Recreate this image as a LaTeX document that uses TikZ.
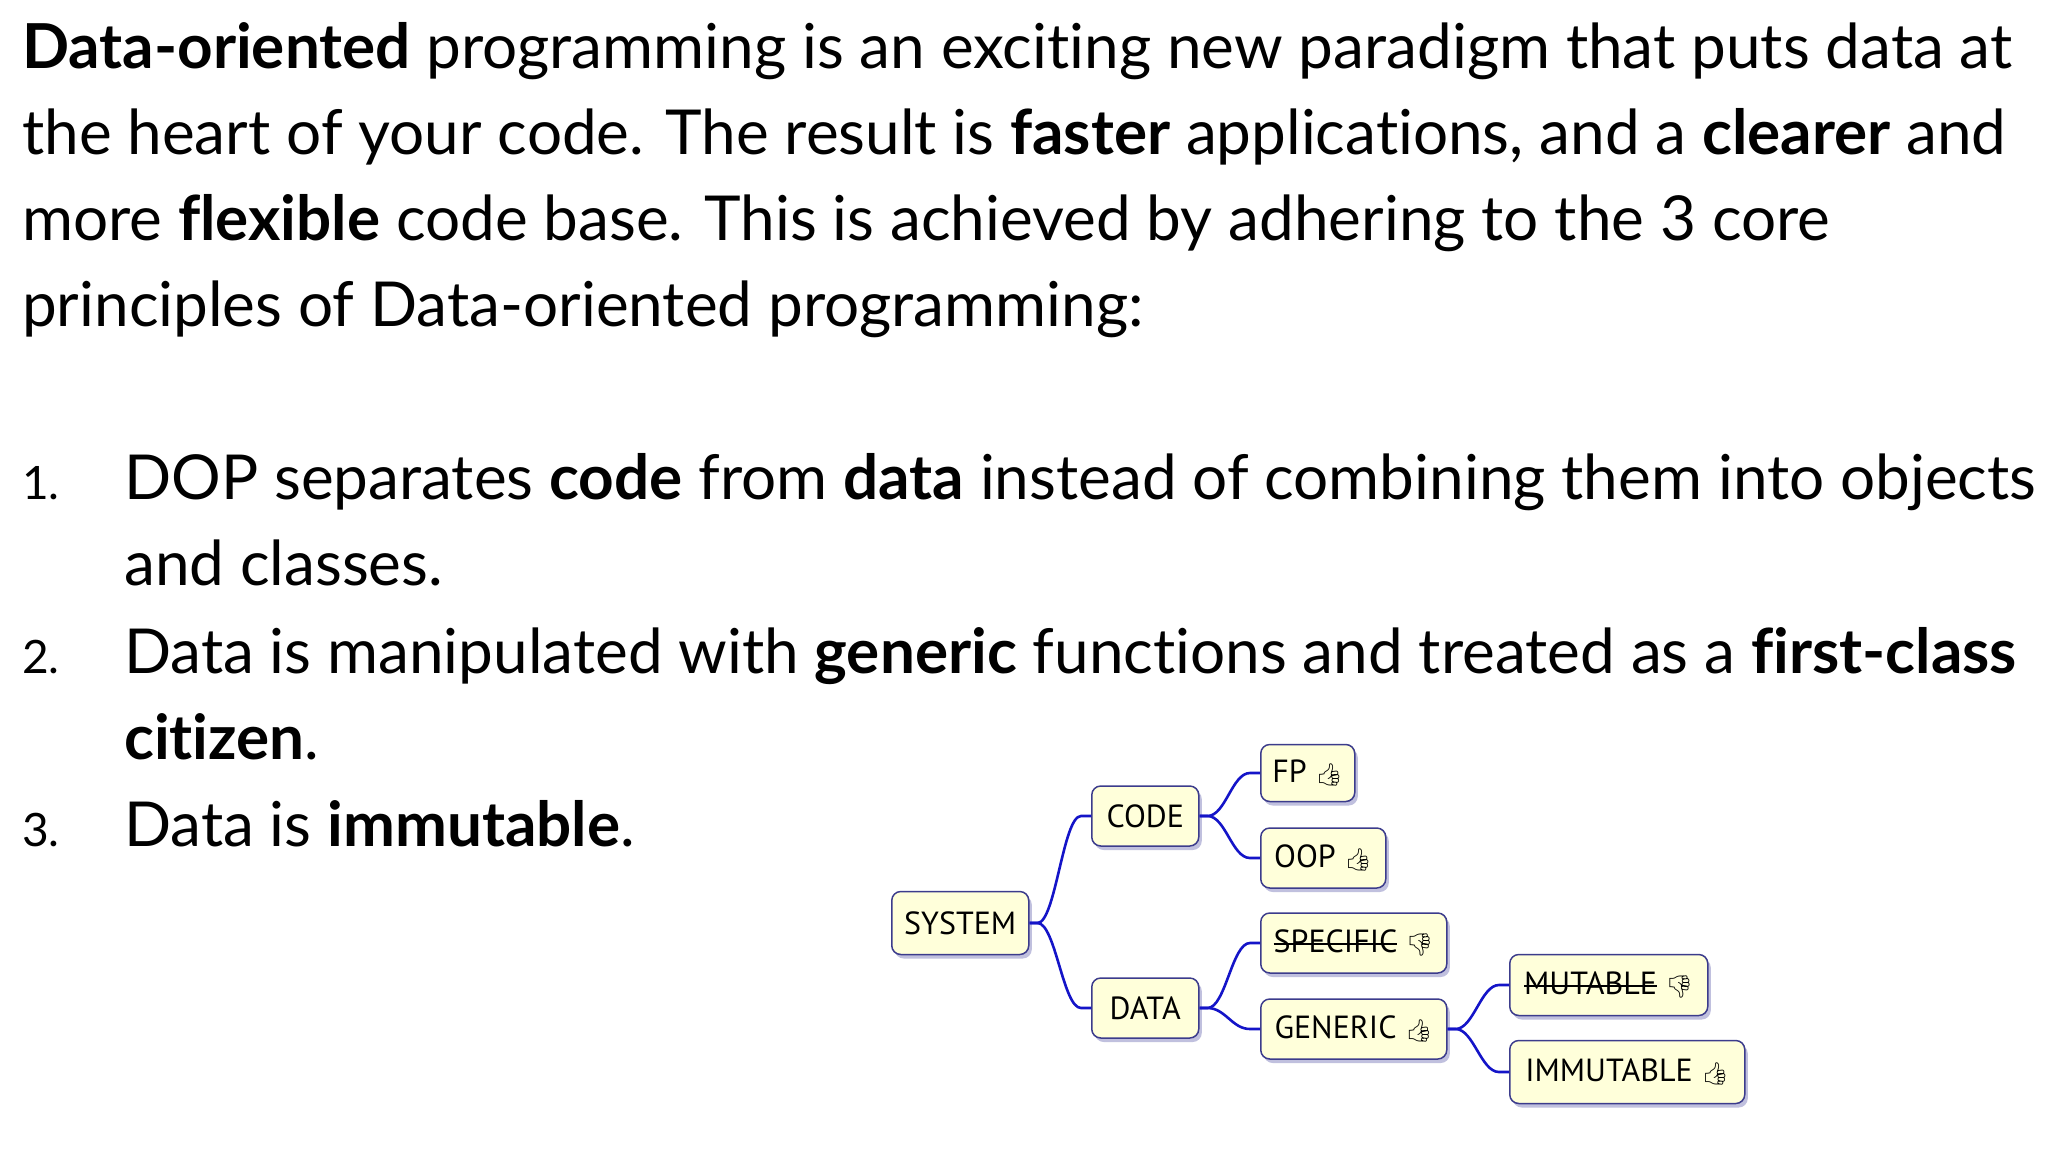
\documentclass[tikz,border=0pt]{standalone}
\usepackage{fontspec}
\usetikzlibrary{shadows}
\setmainfont{Lato}[Ligatures=NoCommon]
\newfontfamily\boxfont{PT Sans}
\newfontfamily\emo{Noto Emoji}
\begin{document}
\begin{tikzpicture}[x=1pt,y=-1pt,
  txt/.style={anchor=base west,inner sep=0,font=\fontsize{62}{70}\selectfont},
  mm/.style={draw={rgb,255:red,60;green,60;blue,140},line width=1.5pt,fill={rgb,255:red,255;green,255;blue,218},rounded corners=9pt,anchor=west,minimum height=60pt,inner xsep=11pt,align=left,font=\boxfont\fontsize{32}{34}\selectfont,
    drop shadow={shadow xshift=3pt,shadow yshift=-4pt,fill={rgb,255:red,150;green,150;blue,200},opacity=.6}},
  ln/.style={draw={rgb,255:red,20;green,20;blue,200},line width=2.6pt}]
\useasboundingbox (0,0) rectangle (2048,1152);
\fill[white] (0,0) rectangle (2048,1152);
\node[txt] (l1) at (22,68) {\textbf{Data-oriented} programming is an exciting new paradigm that puts data at};
\node[txt] (l2) at (22,154) {the heart of your code. The result is \textbf{faster} applications, and a \textbf{clearer} and};
\node[txt] (l3) at (22,240) {more \textbf{flexible} code base. This is achieved by adhering to the 3 core};
\node[txt] (l4) at (22,326) {principles of Data-oriented programming:};
\node[txt,font=\fontsize{46}{50}\selectfont] (n1) at (22,499) {1.};
\node[txt] (i1) at (124,499) {DOP separates \textbf{code} from \textbf{data} instead of combining them into objects};
\node[txt] (i1b) at (124,585) {and classes.};
\node[txt,font=\fontsize{46}{50}\selectfont] (n2) at (22,673) {2.};
\node[txt] (i2) at (124,673) {Data is manipulated with \textbf{generic} functions and treated as a \textbf{first-class}};
\node[txt] (i2b) at (124,759) {\textbf{citizen}.};
\node[txt,font=\fontsize{46}{50}\selectfont] (n3) at (22,846) {3.};
\node[txt] (i3) at (124,846) {Data is \textbf{immutable}.};
\def\up{{\emo\fontsize{22}{22}\selectfont 👍}}
\def\dn{{\emo\fontsize{22}{22}\selectfont 👎}}
\def\strike#1{\setbox0\hbox{#1}\rlap{\rule[8pt]{\wd0}{1.6pt}}\box0\relax}
\node[mm,minimum height=63pt,minimum width=137pt] (sys) at (891,923) {SYSTEM};
\node[mm,minimum width=107pt] (code) at (1091,816) {CODE};
\node[mm,minimum width=107pt] (data) at (1091,1008) {DATA};
\node[mm,minimum height=57pt,minimum width=94pt] (fp) at (1260,773) {FP \up};
\node[mm,minimum width=125pt] (oop) at (1260,858) {OOP \up};
\node[mm,minimum width=186pt] (spec) at (1260,943) {\strike{SPECIFIC} \dn};
\node[mm,minimum width=186pt] (gen) at (1260,1029) {GENERIC \up};
\node[mm,minimum height=61pt,minimum width=198pt] (mut) at (1509,985) {\strike{MUTABLE} \dn};
\node[mm,minimum height=63pt,minimum width=235pt] (imm) at (1509,1072) {IMMUTABLE \up};
\foreach \a/\b in {sys/code,sys/data,code/fp,code/oop,data/spec,data/gen,gen/mut,gen/imm}{
  \draw[ln] (\a.east) -- ++(8,0) .. controls +(18,0) and +(-18,0) .. ([xshift=-10pt]\b.west) -- (\b.west);
}
\end{tikzpicture}
\end{document}
